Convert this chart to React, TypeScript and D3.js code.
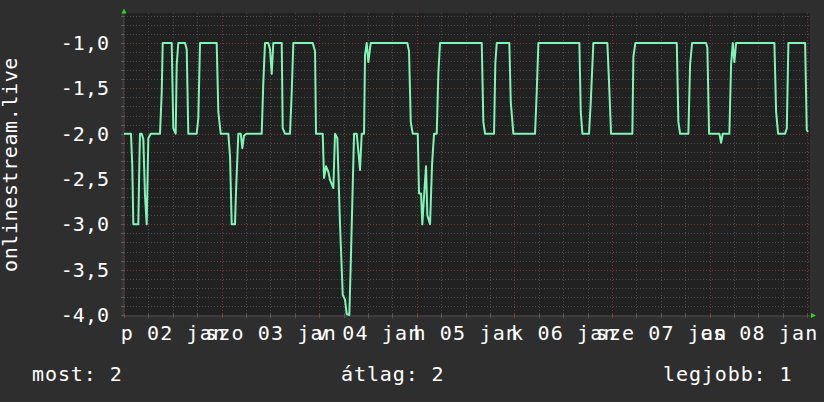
import React from 'react';
import * as d3 from 'd3';

// hours since start of "p 02 jan"
const hours = [
  0, 1.72, 2.04, 2.29, 3.52, 3.81, 3.93, 4.35, 4.75, 5.16, 5.58, 5.98, 6.57,
  8.85, 9.27, 9.52, 11.73, 12.12, 12.71, 12.96, 13.35, 15.0, 15.42, 15.81,
  17.88, 18.27, 18.69, 22.79, 23.19, 23.78, 25.65, 26.07, 26.48, 27.29, 27.54,
  28.11, 28.7, 29.09, 29.51, 30.17, 33.86, 34.25, 34.67, 35.48, 35.9, 36.32,
  36.71, 38.78, 39.02, 39.59, 40.82, 41.24, 41.63, 46.4, 46.97, 47.21, 48.86,
  49.18, 49.67, 50.24, 50.65, 51.47, 51.88, 52.45, 53.11, 53.78, 54.34, 54.76,
  55.4, 55.74, 56.14, 56.56, 57.22, 57.61, 58.03, 58.45, 59.02, 59.26, 59.68,
  60.07, 60.66, 69.66, 70.08, 70.5, 70.99, 72.22, 72.54, 73.03, 73.35, 73.84,
  74.26, 74.58, 75.25, 75.74, 76.23, 76.89, 77.29, 77.7, 87.96, 88.35, 88.77,
  90.98, 91.3, 91.65, 94.74, 95.09, 95.73, 101.06, 101.48, 101.88, 111.96,
  112.3, 112.7, 114.34, 114.76, 115.4, 118.84, 119.26, 119.75, 124.99, 125.24,
  125.73, 135.91, 136.3, 136.72, 138.76, 139.18, 139.67, 143.11, 143.43, 143.85,
  146.38, 146.8, 147.22, 148.84, 149.26, 149.68, 150.07, 150.49, 159.91, 160.33,
  160.82, 162.54, 162.96, 163.35, 167.46, 167.87, 168.19,
];

const values = [
  -2.0, -2.0, -2.36, -3.0, -3.0, -2.25, -2.0, -2.0, -2.06, -2.68, -3.0, -2.05, -2.0,
  -2.0, -1.55, -1.0, -1.0, -1.94, -2.0, -1.24, -1.0, -1.0, -1.07, -2.0,
  -2.0, -1.83, -1.0, -1.0, -1.76, -2.0, -2.0, -2.25, -3.0, -3.0, -2.64,
  -2.0, -2.0, -2.16, -2.02, -2.0, -2.0, -1.44, -1.0, -1.0, -1.07, -1.34,
  -1.0, -1.0, -1.94, -2.0, -2.0, -1.54, -1.0, -1.0, -1.09, -2.0, -2.0,
  -2.49, -2.36, -2.42, -2.51, -2.6, -2.0, -2.05, -3.0, -3.78, -3.83, -3.99,
  -4.0, -3.45, -2.75, -2.0, -2.0, -2.19, -2.4, -2.0, -2.0, -1.13, -1.0,
  -1.21, -1.0, -1.0, -1.09, -1.87, -2.0, -2.0, -2.66, -2.66, -3.0, -2.64,
  -2.36, -2.9, -3.0, -2.34, -2.0, -2.0, -1.33, -1.0, -1.0, -1.87, -2.0,
  -2.0, -1.22, -1.0, -1.0, -1.65, -2.0, -2.0, -1.54, -1.0, -1.0,
  -1.76, -2.0, -2.0, -1.65, -1.0, -1.0, -1.44, -2.0, -2.0, -1.15,
  -1.0, -1.0, -1.87, -2.0, -2.0, -1.24, -1.0, -1.0, -1.05, -2.0,
  -2.0, -2.1, -2.0, -2.0, -1.24, -1.0, -1.21, -1.0, -1.0, -1.76,
  -2.0, -2.0, -1.94, -1.0, -1.0, -1.96, -1.98,
];

const yTickValues = [-1.0, -1.5, -2.0, -2.5, -3.0, -3.5, -4.0];
const dayLabels = ['p 02 jan', 'szo 03 jan', 'v 04 jan', 'h 05 jan', 'k 06 jan', 'sze 07 jan', 'cs 08 jan'];
const legendItems = ['most: 2', 'átlag: 2', 'legjobb: 1'];
const axisTitle = 'onlinestream.live';

export default function App() {
  const W = 824;
  const H = 402;
  const plotLeft = 124;
  const plotRight = 810;
  const plotTop = 13;
  const plotBottom = 316;

  const x = d3.scaleLinear().domain([0, 168]).range([124, 807.3]);
  const y = d3.scaleLinear().domain([-4, -1]).range([315, 43]);

  const font = "'DejaVu Sans Mono', monospace";
  const data = hours.map((h, i) => [h, values[i]] as [number, number]);
  const line = d3
    .line<[number, number]>()
    .x((d) => x(d[0]))
    .y((d) => y(d[1]));

  const yMinor = d3.range(-40, -6).map((v) => v / 10);
  const xMinor = d3.range(0, 169, 6);
  const fmt = (v: number) => d3.format('.1f')(v).replace('.', ',').replace('−', '-');

  const legendX = [32, 341, 663];

  return (
    <div style={{ position: 'absolute', left: 0, top: 0 }}>
      <svg width={W} height={H} style={{ display: 'block' }}>
        <rect x={0} y={0} width={W} height={H} fill="#2e2e2e" />
        <rect x={plotLeft} y={plotTop} width={plotRight - plotLeft} height={plotBottom - plotTop} fill="#212121" />

        {/* minor grid */}
        {yMinor.map((v) => {
          const major = Math.abs(Math.round(v * 10) % 5) === 0;
          const yy = Math.round(y(v)) + 0.5;
          return (
            <line
              key={'gy' + v}
              x1={plotLeft}
              x2={plotRight}
              y1={yy}
              y2={yy}
              stroke={major ? '#7a3636' : '#4c4c4c'}
              strokeWidth={1}
              strokeDasharray="1 2"
              shapeRendering="crispEdges"
            />
          );
        })}
        {xMinor.map((h) => {
          const major = h % 24 === 0;
          const xx = Math.round(x(h)) + 0.5;
          return (
            <line
              key={'gx' + h}
              x1={xx}
              x2={xx}
              y1={plotTop}
              y2={plotBottom}
              stroke={major ? '#7a3636' : '#4c4c4c'}
              strokeWidth={1}
              strokeDasharray="1 2"
              shapeRendering="crispEdges"
            />
          );
        })}

        {/* axes */}
        <line x1={plotLeft - 0.5} x2={plotLeft - 0.5} y1={plotTop} y2={plotBottom + 1} stroke="#3c3c3c" strokeWidth={2} />
        <line x1={plotLeft - 2} x2={plotRight + 1} y1={plotBottom} y2={plotBottom} stroke="#3c3c3c" strokeWidth={2} />
        {xMinor.map((h) => {
          const major = h % 24 === 0;
          const xx = Math.round(x(h)) + 0.5;
          return (
            <line key={'tx' + h} x1={xx} x2={xx} y1={plotBottom - 2} y2={plotBottom + 2} stroke={major ? '#8a3a3a' : '#5a5a5a'} shapeRendering="crispEdges" />
          );
        })}
        {yMinor.map((v) => {
          const yy = Math.round(y(v)) + 0.5;
          return <line key={'ty' + v} x1={plotLeft - 3} x2={plotLeft + 1} y1={yy} y2={yy} stroke="#5a5a5a" shapeRendering="crispEdges" />;
        })}

        {/* arrows */}
        <path d={`M${plotLeft - 2.5},13.5 L${plotLeft + 2.5},13.5 L${plotLeft},8.5 Z`} fill="#22dd22" />
        <path d={`M811,313 L811,318 L816,315.5 Z`} fill="#22dd22" />

        {/* series */}
        <path d={line(data) || ''} fill="none" stroke="#7ff5b6" strokeWidth={2} strokeLinejoin="round" />

        {/* y tick labels */}
        {yTickValues.map((v) => (
          <text key={'yl' + v} x={109} y={y(v) + 7} textAnchor="end" fontFamily={font} fontSize={20} fill="#ffffff">
            {fmt(v)}
          </text>
        ))}

        {/* x tick labels */}
        {dayLabels.map((lab, i) => (
          <text
            key={'xl' + i}
            x={x(i * 24 + 12) + 0.6}
            y={339.5}
            textAnchor="middle"
            fontFamily={font}
            fontSize={20}
            letterSpacing={1.15}
            fill="#ffffff"
          >
            {lab}
          </text>
        ))}

        {/* axis title */}
        <text
          transform={`translate(17,${(plotTop + plotBottom) / 2}) rotate(-90)`}
          textAnchor="middle"
          fontFamily={font}
          fontSize={20}
          letterSpacing={0.6}
          fill="#ffffff"
        >
          {axisTitle}
        </text>

        {/* legend */}
        {legendItems.map((t, i) => (
          <text key={'lg' + i} x={legendX[i]} y={381} fontFamily={font} fontSize={20} letterSpacing={0.9} fill="#ffffff">
            {t}
          </text>
        ))}
      </svg>
    </div>
  );
}
